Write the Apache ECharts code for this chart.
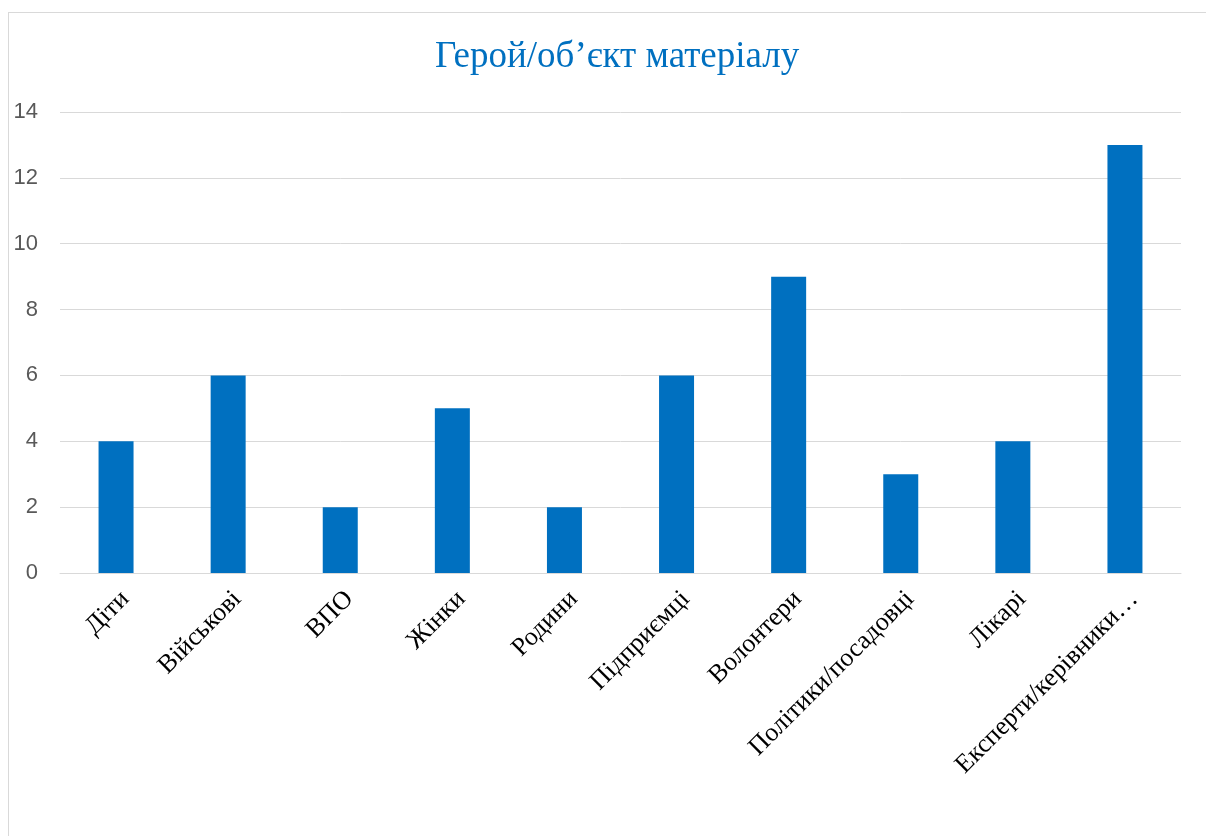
<!DOCTYPE html>
<html>
<head>
<meta charset="utf-8">
<script src="https://cdn.jsdelivr.net/npm/echarts@6/dist/echarts.min.js"></script>
<style>
  html, body { margin: 0; padding: 0; background: #fff; }
  #frame { position: absolute; left: 8px; top: 12px; width: 1300px; height: 900px; border: 1px solid #d9d9d9; }
  #chart { position: absolute; left: 0; top: 0; width: 1206px; height: 836px; }
</style>
</head>
<body>
<div id="frame"></div>
<div id="chart"></div>
<script>
// категорії та значення
const categories = ['Діти', 'Військові', 'ВПО', 'Жінки', 'Родини', 'Підприємці', 'Волонтери', 'Політики/посадовці', 'Лікарі', 'Експерти/керівники…'];
const values = [4, 6, 2, 5, 2, 6, 9, 3, 4, 13];
const yTicks = [0, 2, 4, 6, 8, 10, 12, 14];

const chart = echarts.init(document.getElementById('chart'));
chart.setOption({
  animation: false,
  title: {
    text: 'Герой/об’єкт матеріалу',
    left: 430,
    top: 34,
    textStyle: { fontFamily: 'Liberation Serif', fontSize: 37, fontWeight: 'normal', color: '#0070C0' }
  },
  grid: { left: 60, right: 25, top: 112, bottom: 263, containLabel: false },
  xAxis: {
    type: 'category',
    data: categories,
    axisLine: { show: true, lineStyle: { color: '#d9d9d9', width: 1 } },
    axisTick: { show: false },
    axisLabel: {
      interval: 0,
      rotate: 45,
      margin: 13,
      verticalAlign: 'top',
      fontFamily: 'Liberation Serif',
      fontSize: 26,
      color: '#000'
    }
  },
  yAxis: {
    type: 'value',
    min: yTicks[0],
    max: yTicks[yTicks.length - 1],
    interval: 2,
    axisLine: { show: false },
    axisTick: { show: false },
    splitLine: { lineStyle: { color: '#d9d9d9', width: 1 } },
    axisLabel: { fontFamily: 'Liberation Sans', fontSize: 22, color: '#595959', margin: 22 }
  },
  series: [{
    type: 'bar',
    data: values,
    barWidth: 35,
    itemStyle: { color: '#0070C0' }
  }]
});
</script>
</body>
</html>
